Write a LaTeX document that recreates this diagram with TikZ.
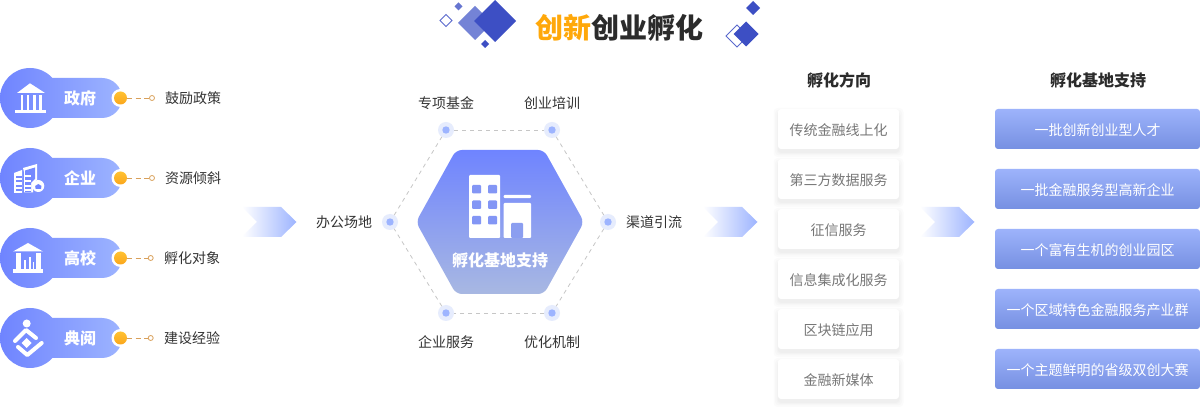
\documentclass[tikz,border=0pt]{standalone}
\usepackage{fontspec}
\setmainfont{Noto Sans CJK SC}
\usetikzlibrary{calc}
\definecolor{pillL}{HTML}{6F84FF}
\definecolor{pillR}{HTML}{9DB4FF}
\definecolor{dkblue}{HTML}{3D4FC4}
\definecolor{mdblue}{HTML}{7483D6}
\definecolor{smblue}{HTML}{6675D0}
\definecolor{orangeT}{HTML}{FFA80A}
\definecolor{txtdark}{HTML}{2B2B2B}
\definecolor{txtlab}{HTML}{333333}
\definecolor{txtgrey}{HTML}{777777}
\definecolor{dashor}{HTML}{D9A05A}
\definecolor{halo}{HTML}{E6ECFD}
\definecolor{dotb}{HTML}{9DB4FF}
\definecolor{hexB}{HTML}{A8B8E2}
\definecolor{rbT}{HTML}{9DB3FB}
\definecolor{rbB}{HTML}{7690E2}
\definecolor{dotT}{HTML}{FFC233}
\definecolor{dotD}{HTML}{FBA61C}
\newcommand{\fs}[1]{\fontsize{#1pt}{#1pt}\selectfont}
\tikzset{
  every node/.style={inner sep=0pt,outer sep=0pt},
  lab/.style={font=\fs{14},text=txtlab,anchor=center},
  pilltxt/.style={font=\fs{16}\bfseries,text=white,anchor=center},
  orangedot/.style={circle,minimum size=13pt,top color=dotT,bottom color=dotD},
  enddot/.style={circle,minimum size=5pt,draw=dashor,line width=.8pt,fill=white},
  halonode/.style={circle,minimum size=16pt,fill=halo},
  hexdash/.style={draw=gray!45,line width=.8pt,dash pattern=on 4pt off 4pt},
  softbox/.style={rectangle,rounded corners=3pt,minimum width=121pt,minimum height=40pt,fill=white,font=\fs{14},text=txtgrey,text height=14pt,text depth=1.4pt},
  bluebox/.style={rectangle,rounded corners=3pt,minimum width=205pt,minimum height=40pt,top color=rbT,bottom color=rbB,font=\fs{14},text=white,text height=14pt,text depth=1.4pt},
  head/.style={font=\fs{16}\bfseries,text=txtdark},
  ico/.style={fill=white,draw=none},
}
\newcommand{\diam}[4]{\fill[#4] (#1-#3,#2) -- (#1,#2-#3) -- (#1+#3,#2) -- (#1,#2+#3) -- cycle;}
\newcommand{\diamo}[3]{\draw[dkblue!85,line width=.8pt,fill=white] (#1-#3,#2) -- (#1,#2-#3) -- (#1+#3,#2) -- (#1,#2+#3) -- cycle;}
\newcommand{\chev}[1]{\shade[left color=white,right color=dotb,shading angle=90] (#1,207) -- (#1+39,207) -- (#1+54.5,222) -- (#1+39,237) -- (#1,237) -- (#1+15,222) -- cycle;}
\begin{document}
\begin{tikzpicture}[x=1pt,y=-1pt]
\useasboundingbox (0,0) rectangle (1200,411);
\fill[white] (0,0) rectangle (1200,411);
% title ornaments
\diam{475}{23}{17}{mdblue}
\diam{495}{21}{21}{dkblue}
\diam{458.5}{6.5}{4}{smblue}
\diam{485}{44}{4}{dkblue}
\diamo{446}{20.5}{6}
\diam{753}{8}{7}{dkblue}
\diamo{737}{36}{11}
\diam{746}{34}{12.5}{dkblue}
\node[font=\fs{28}\bfseries,text=txtdark] (title) at (619.5,28) {\textcolor{orangeT}{创新}创业孵化};
% left rows
\foreach \n/\cy/\t/\l/\ex/\lx in {a/98/政府/鼓励政策/152/193,b/178/企业/资源倾斜/152/193,c/258/高校/孵化对象/150.7/192,d/338/典阅/建设经验/150.7/192}{
  \shade[left color=pillL,right color=pillR,shading angle=90]
    (52.36,\cy-20) -- (102,\cy-20)
    .. controls (113,\cy-20) and (122,\cy-11) .. (122,\cy)
    .. controls (122,\cy+11) and (113,\cy+20) .. (102,\cy+20)
    -- (52.36,\cy+20)
    .. controls (46.67,\cy+26.36) and (38.54,\cy+30) .. (30,\cy+30)
    .. controls (13.43,\cy+30) and (0,\cy+16.57) .. (0,\cy)
    .. controls (0,\cy-16.57) and (13.43,\cy-30) .. (30,\cy-30)
    .. controls (38.54,\cy-30) and (46.67,\cy-26.36) .. (52.36,\cy-20) -- cycle;
  \fill[white] (120.5,\cy) circle[radius=9pt];
  \node[pilltxt] (t\n) at (80,\cy) {\t};
  \node[orangedot] (o\n) at (120.5,\cy) {};
  \node[enddot] (e\n) at (\ex,\cy) {};
  \draw[dashor,line width=.8pt,dash pattern=on 5pt off 3.5pt] (o\n) -- (e\n);
  \node[lab] (l\n) at (\lx,\cy) {\l};
}
% icon: government
\fill[ico] (30,83.3) -- (45,93) -- (17,93) -- cycle;
\foreach \x in {20.5,26.7,33,39}{\fill[ico] (\x,95) rectangle (\x+2.6,110);}
\fill[ico] (15.3,110.5) rectangle (46,113.3);
% icon: enterprise
\fill[ico] (14,173) -- (22,170) -- (22,193) -- (14,193) -- cycle;
\foreach \y in {176,180.5,185,189}{\fill[pillL!95!white] (16,\y) rectangle (21.5,\y+1.6);}
\fill[ico] (23,168) -- (37,164) -- (37,180) -- (33,184) -- (33,192.5) -- (24,192.5) -- (24,172) -- cycle;
\fill[pillL!90!pillR] (25,170.5) -- (35,167.5) -- (35,179) -- (31,183) -- (31,192) -- (25,192) -- cycle;
\foreach \y in {175,180,185,189.5}{\fill[ico] (25,\y) rectangle (31,\y+2);}
\fill[ico] (38.3,186) circle[radius=6pt];
\fill[pillL] (38.3,184) -- (41.5,186) -- (41,189) -- (35.6,189) -- (35.2,186) -- cycle;
% icon: university
\fill[ico] (28,243) -- (43,251.5) -- (13,251.5) -- cycle;
\fill[ico] (16,253) rectangle (21,269);
\fill[ico] (36,253) rectangle (41,269);
\fill[ico] (24,260) rectangle (26,269);
\fill[ico] (29,257) rectangle (31,269);
\fill[ico] (33,262) rectangle (34.2,269);
\fill[ico] (13,269) rectangle (43,273);
% icon: person
\fill[ico] (26.7,323.5) circle[radius=4pt];
\draw[white,line width=4pt,line cap=round,line join=round] (15,341) -- (26,330) -- (36,338);
\draw[white,line width=4pt,line cap=round,line join=round] (18,347) -- (27.3,355) -- (41.7,343);
\diam{26.7}{343}{5}{white}
% arrows
\chev{242}
\chev{703}
\chev{920}
% hexagon connectors
\foreach \n/\x/\y in {h1/446/130,h2/552/130,h3/608/222,h4/552/313,h5/446/313,h6/390/222}{
  \node[halonode] (\n) at (\x,\y) {};
}
\draw[hexdash] (h1) -- (h2);
\draw[hexdash] (h2) -- (h3);
\draw[hexdash] (h3) -- (h4);
\draw[hexdash] (h4) -- (h5);
\draw[hexdash] (h5) -- (h6);
\draw[hexdash] (h6) -- (h1);
\foreach \n in {h1,h2,h3,h4,h5,h6}{\fill[dotb] (\n) circle[radius=3.7pt];}
% central hexagon
\shade[top color=pillL,bottom color=hexB,rounded corners=6pt] (456,150) -- (544,150) -- (584,222) -- (544,294) -- (456,294) -- (416,222) -- cycle;
\fill[white,rounded corners=1pt] (469,175) rectangle (500,238);
\foreach \x in {472,488}{\foreach \y in {185,200.5,216}{\fill[pillL!65!hexB,rounded corners=1pt] (\x,\y) rectangle (\x+9,\y+8.5);}}
\fill[white,rounded corners=1pt] (503.7,195) rectangle (531,198.2);
\fill[white,rounded corners=1pt] (503.7,203) rectangle (531,238);
\fill[pillL!50!hexB,rounded corners=1pt] (511,238) -- (511,223) -- (523,223) -- (523,238) -- cycle;
\node[font=\fs{16}\bfseries,text=white] (hc) at (500,260) {孵化基地支持};
% hexagon labels
\node[lab] (m1) at (446,103) {专项基金};
\node[lab] (m2) at (552,103) {创业培训};
\node[lab] (m3) at (654,222) {渠道引流};
\node[lab] (m4) at (552,342) {优化机制};
\node[lab] (m5) at (446,342) {企业服务};
\node[lab] (m6) at (344,222) {办公场地};
% middle column
\node[head] (h-a) at (839,80) {孵化方向};
\foreach \cy in {129,179,229,279,329,379}{
  \foreach \g in {5,3.5,2,1}{
    \fill[black,opacity=.016,rounded corners=4pt] (778.5-\g,\cy-20-\g+4) rectangle (898.5+\g,\cy+20+\g+3);
  }
}
\foreach \n/\cy/\t in {s1/129/传统金融线上化,s2/179/第三方数据服务,s3/229/征信服务,s4/279/信息集成化服务,s5/329/区块链应用,s6/379/金融新媒体}{
  \node[softbox] (\n) at (838.5,\cy) {\t};
}
% right column
\node[head] (h-b) at (1098,80) {孵化基地支持};
\foreach \n/\cy/\t in {r1/129/一批创新创业型人才,r2/189/一批金融服务型高新企业,r3/249/一个富有生机的创业园区,r4/309/一个区域特色金融服务产业群,r5/369/一个主题鲜明的省级双创大赛}{
  \node[bluebox] (\n) at (1097.5,\cy) {\t};
}
\end{tikzpicture}
\end{document}
